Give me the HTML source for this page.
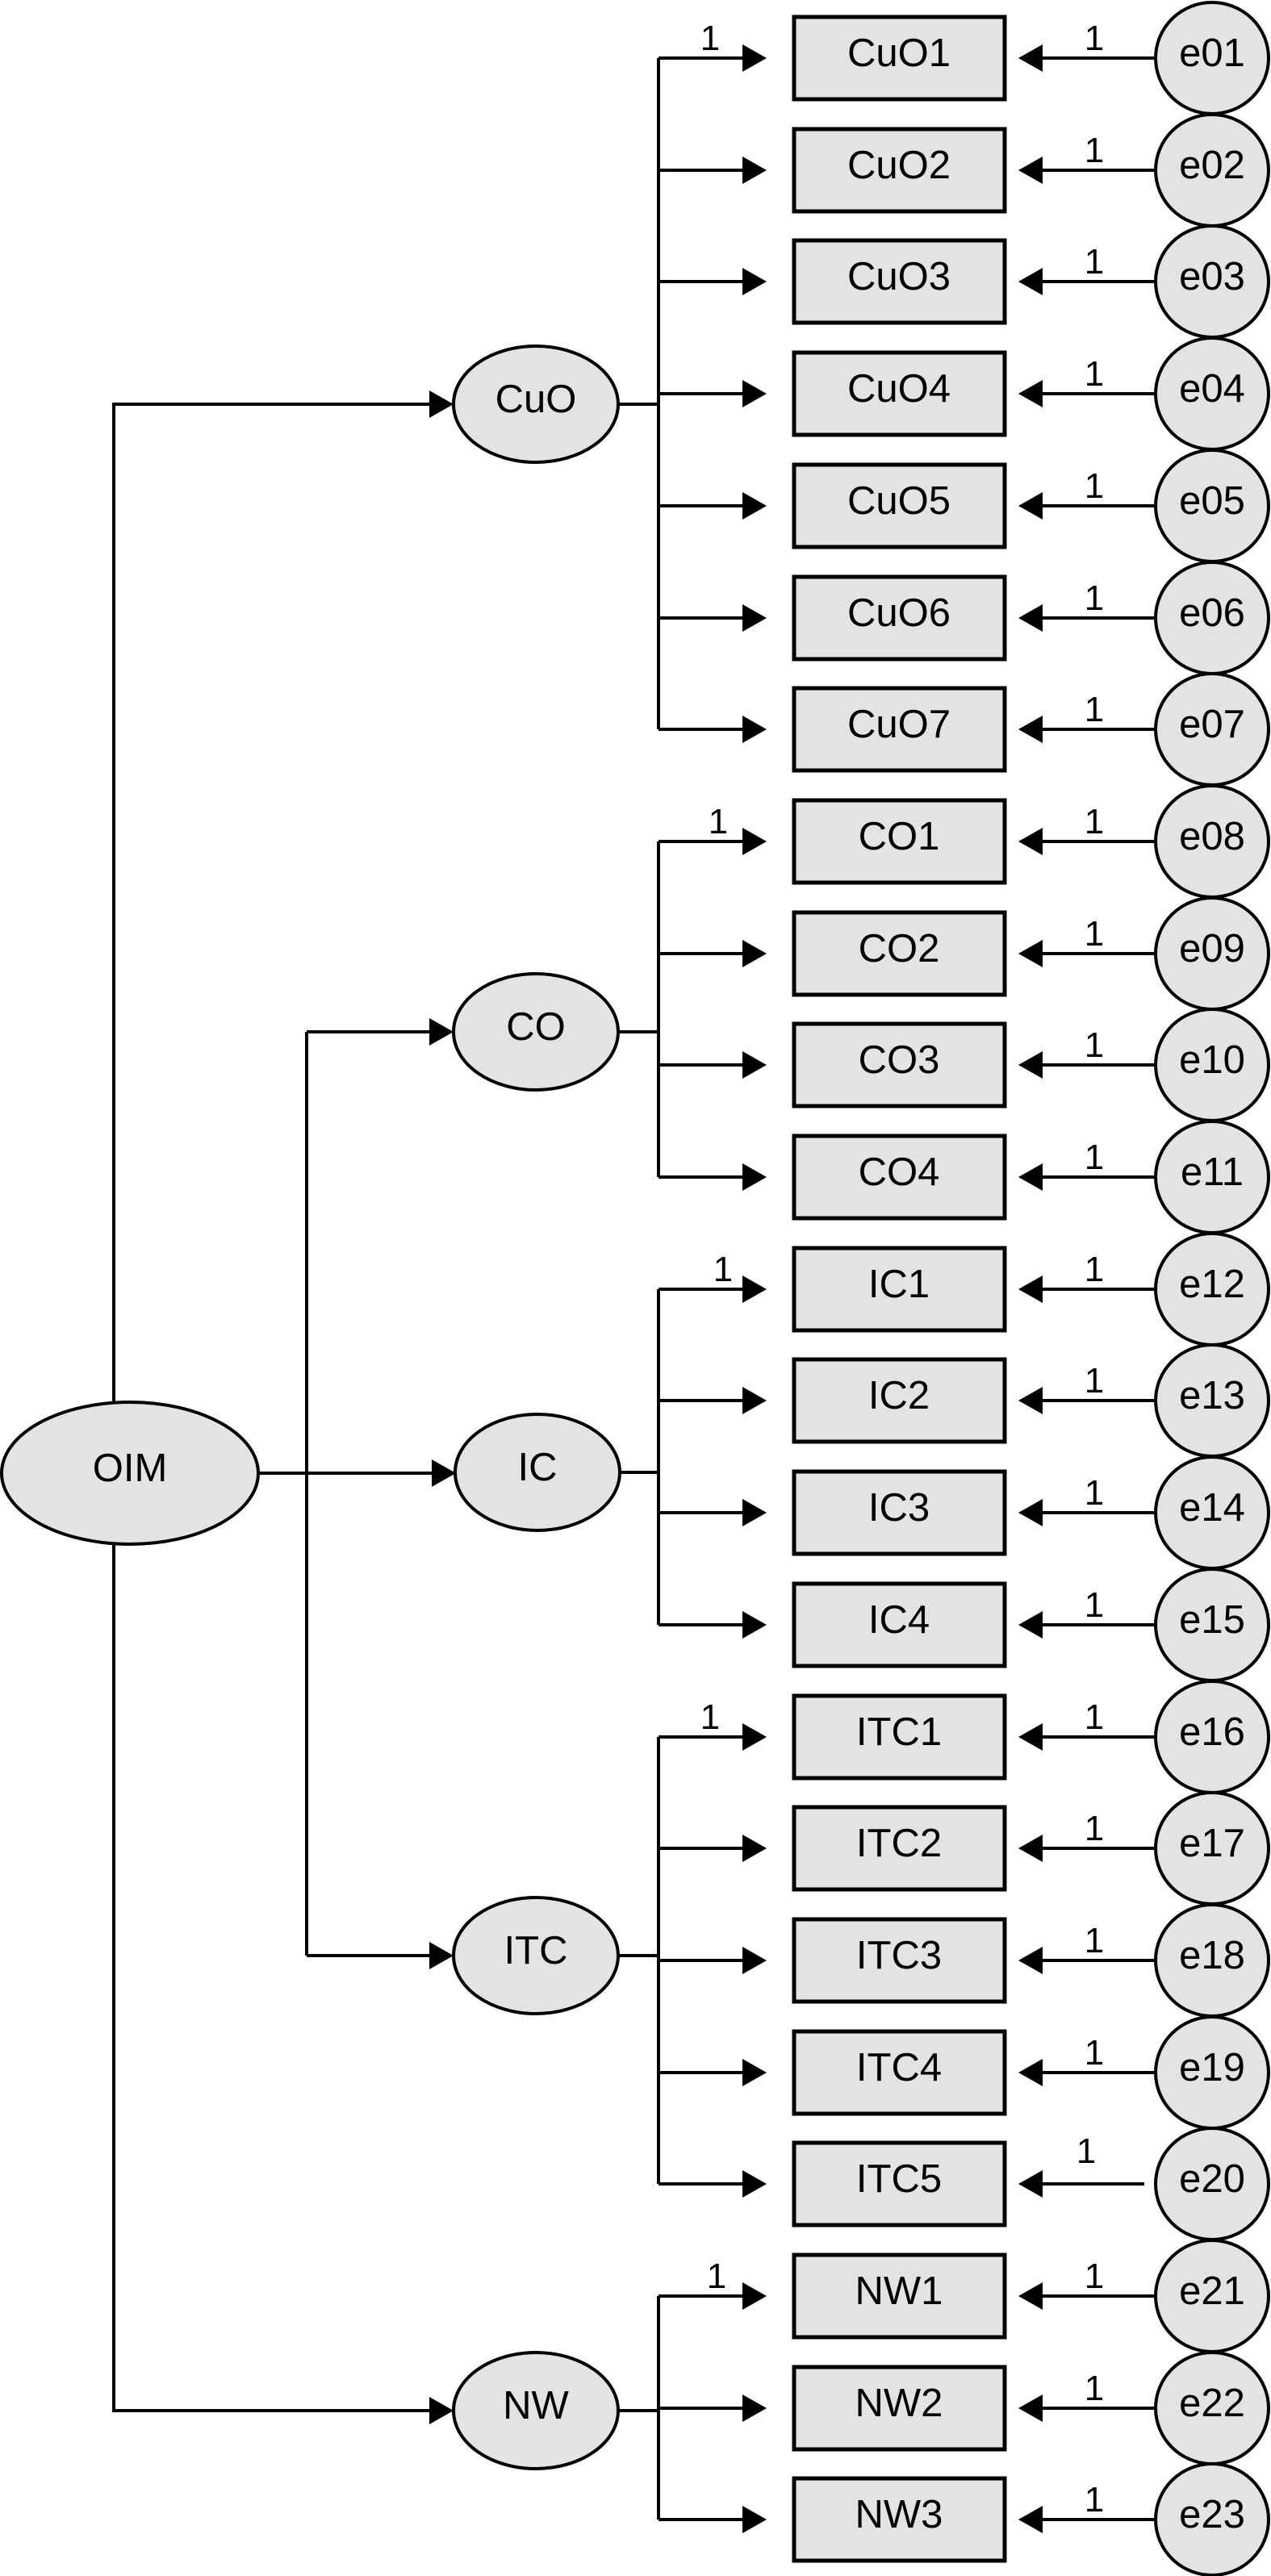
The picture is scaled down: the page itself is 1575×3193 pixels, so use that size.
<!DOCTYPE html>
<html><head><meta charset="utf-8"><style>html,body{margin:0;padding:0;background:#fff}svg{display:block}</style></head><body>
<svg width="1575" height="3193" viewBox="0 0 1575 3193" xmlns="http://www.w3.org/2000/svg" font-family="Liberation Sans, Arial, sans-serif">
<g stroke="#000" stroke-width="4" fill="none">
<path d="M141 1738V501H532M141 1914V2988H532M320 1826H535M380 1279V2424M380 1279H532M380 2424H532"/>
<path d="M766 501H816M816 72V904M766 1279H816M816 1043V1459M768 1825H816M816 1598V2014M766 2424H816M816 2153V2707M766 2988H816M816 2846V3123"/>
<path d="M816 72H922M816 211H922M816 349H922M816 488H922M816 627H922M816 766H922M816 904H922M816 1043H922M816 1182H922M816 1320H922M816 1459H922M816 1598H922M816 1736H922M816 1875H922M816 2014H922M816 2153H922M816 2291H922M816 2430H922M816 2569H922M816 2707H922M816 2846H922M816 2985H922M816 3123H922"/>
<path d="M1290 72H1430M1290 211H1430M1290 349H1430M1290 488H1430M1290 627H1430M1290 766H1430M1290 904H1430M1290 1043H1430M1290 1182H1430M1290 1320H1430M1290 1459H1430M1290 1598H1430M1290 1736H1430M1290 1875H1430M1290 2014H1430M1290 2153H1430M1290 2291H1430M1290 2430H1430M1290 2569H1430M1290 2707H1418M1290 2846H1430M1290 2985H1430M1290 3123H1430"/>
</g>
<defs>
<polygon id="ar" points="0,-17 30,0 0,17" fill="#000"/>
<polygon id="al" points="30,-17 0,0 30,17" fill="#000"/>
<rect id="bx" x="0" y="-51" width="261" height="102" fill="#e3e3e3" stroke="#000" stroke-width="5"/>
<ellipse id="ec" cx="0" cy="0" rx="70" ry="69" fill="#e3e3e3" stroke="#000" stroke-width="4"/>
<ellipse id="lt" cx="0" cy="0" rx="102" ry="72" fill="#e3e3e3" stroke="#000" stroke-width="4"/>
</defs>
<use href="#ar" x="532" y="501"/><use href="#ar" x="532" y="1279"/><use href="#ar" x="535" y="1826"/><use href="#ar" x="532" y="2424"/><use href="#ar" x="532" y="2988"/>
<g>
<use href="#ar" x="920" y="72"/><use href="#ar" x="920" y="211"/><use href="#ar" x="920" y="349"/><use href="#ar" x="920" y="488"/><use href="#ar" x="920" y="627"/><use href="#ar" x="920" y="766"/><use href="#ar" x="920" y="904"/><use href="#ar" x="920" y="1043"/><use href="#ar" x="920" y="1182"/><use href="#ar" x="920" y="1320"/><use href="#ar" x="920" y="1459"/><use href="#ar" x="920" y="1598"/><use href="#ar" x="920" y="1736"/><use href="#ar" x="920" y="1875"/><use href="#ar" x="920" y="2014"/><use href="#ar" x="920" y="2153"/><use href="#ar" x="920" y="2291"/><use href="#ar" x="920" y="2430"/><use href="#ar" x="920" y="2569"/><use href="#ar" x="920" y="2707"/><use href="#ar" x="920" y="2846"/><use href="#ar" x="920" y="2985"/><use href="#ar" x="920" y="3123"/>
<use href="#al" x="1262" y="72"/><use href="#al" x="1262" y="211"/><use href="#al" x="1262" y="349"/><use href="#al" x="1262" y="488"/><use href="#al" x="1262" y="627"/><use href="#al" x="1262" y="766"/><use href="#al" x="1262" y="904"/><use href="#al" x="1262" y="1043"/><use href="#al" x="1262" y="1182"/><use href="#al" x="1262" y="1320"/><use href="#al" x="1262" y="1459"/><use href="#al" x="1262" y="1598"/><use href="#al" x="1262" y="1736"/><use href="#al" x="1262" y="1875"/><use href="#al" x="1262" y="2014"/><use href="#al" x="1262" y="2153"/><use href="#al" x="1262" y="2291"/><use href="#al" x="1262" y="2430"/><use href="#al" x="1262" y="2569"/><use href="#al" x="1262" y="2707"/><use href="#al" x="1262" y="2846"/><use href="#al" x="1262" y="2985"/><use href="#al" x="1262" y="3123"/>
<use href="#bx" x="984" y="72"/><use href="#bx" x="984" y="211"/><use href="#bx" x="984" y="349"/><use href="#bx" x="984" y="488"/><use href="#bx" x="984" y="627"/><use href="#bx" x="984" y="766"/><use href="#bx" x="984" y="904"/><use href="#bx" x="984" y="1043"/><use href="#bx" x="984" y="1182"/><use href="#bx" x="984" y="1320"/><use href="#bx" x="984" y="1459"/><use href="#bx" x="984" y="1598"/><use href="#bx" x="984" y="1736"/><use href="#bx" x="984" y="1875"/><use href="#bx" x="984" y="2014"/><use href="#bx" x="984" y="2153"/><use href="#bx" x="984" y="2291"/><use href="#bx" x="984" y="2430"/><use href="#bx" x="984" y="2569"/><use href="#bx" x="984" y="2707"/><use href="#bx" x="984" y="2846"/><use href="#bx" x="984" y="2985"/><use href="#bx" x="984" y="3123"/>
<use href="#ec" x="1502" y="72"/><use href="#ec" x="1502" y="211"/><use href="#ec" x="1502" y="349"/><use href="#ec" x="1502" y="488"/><use href="#ec" x="1502" y="627"/><use href="#ec" x="1502" y="766"/><use href="#ec" x="1502" y="904"/><use href="#ec" x="1502" y="1043"/><use href="#ec" x="1502" y="1182"/><use href="#ec" x="1502" y="1320"/><use href="#ec" x="1502" y="1459"/><use href="#ec" x="1502" y="1598"/><use href="#ec" x="1502" y="1736"/><use href="#ec" x="1502" y="1875"/><use href="#ec" x="1502" y="2014"/><use href="#ec" x="1502" y="2153"/><use href="#ec" x="1502" y="2291"/><use href="#ec" x="1502" y="2430"/><use href="#ec" x="1502" y="2569"/><use href="#ec" x="1502" y="2707"/><use href="#ec" x="1502" y="2846"/><use href="#ec" x="1502" y="2985"/><use href="#ec" x="1502" y="3123"/>
</g>
<ellipse cx="161" cy="1826" rx="159" ry="88" fill="#e3e3e3" stroke="#000" stroke-width="4"/>
<use href="#lt" x="664" y="501"/><use href="#lt" x="664" y="1279"/><use href="#lt" x="666" y="1825"/><use href="#lt" x="664" y="2424"/><use href="#lt" x="664" y="2988"/>
<g font-size="49" text-anchor="middle" fill="#000" transform="translate(0,-7)">
<text x="161" y="1843">OIM</text>
<text x="664" y="518">CuO</text><text x="664" y="1296">CO</text><text x="666" y="1842">IC</text><text x="664" y="2441">ITC</text><text x="664" y="3005">NW</text>
<text x="1114" y="89">CuO1</text><text x="1114" y="228">CuO2</text><text x="1114" y="366">CuO3</text><text x="1114" y="505">CuO4</text><text x="1114" y="644">CuO5</text><text x="1114" y="783">CuO6</text><text x="1114" y="921">CuO7</text>
<text x="1114" y="1060">CO1</text><text x="1114" y="1199">CO2</text><text x="1114" y="1337">CO3</text><text x="1114" y="1476">CO4</text>
<text x="1114" y="1615">IC1</text><text x="1114" y="1753">IC2</text><text x="1114" y="1892">IC3</text><text x="1114" y="2031">IC4</text>
<text x="1114" y="2170">ITC1</text><text x="1114" y="2308">ITC2</text><text x="1114" y="2447">ITC3</text><text x="1114" y="2586">ITC4</text><text x="1114" y="2724">ITC5</text>
<text x="1114" y="2863">NW1</text><text x="1114" y="3002">NW2</text><text x="1114" y="3140">NW3</text>
<text x="1502" y="89">e01</text><text x="1502" y="228">e02</text><text x="1502" y="366">e03</text><text x="1502" y="505">e04</text><text x="1502" y="644">e05</text><text x="1502" y="783">e06</text><text x="1502" y="921">e07</text><text x="1502" y="1060">e08</text><text x="1502" y="1199">e09</text><text x="1502" y="1337">e10</text><text x="1502" y="1476">e11</text><text x="1502" y="1615">e12</text><text x="1502" y="1753">e13</text><text x="1502" y="1892">e14</text><text x="1502" y="2031">e15</text><text x="1502" y="2170">e16</text><text x="1502" y="2308">e17</text><text x="1502" y="2447">e18</text><text x="1502" y="2586">e19</text><text x="1502" y="2724">e20</text><text x="1502" y="2863">e21</text><text x="1502" y="3002">e22</text><text x="1502" y="3140">e23</text>
</g>
<g font-size="44" text-anchor="middle" fill="#000" transform="translate(0,4)">
<text x="880" y="58">1</text><text x="890" y="1029">1</text><text x="896" y="1584">1</text><text x="880" y="2139">1</text><text x="888" y="2832">1</text>
<text x="1356" y="58">1</text><text x="1356" y="197">1</text><text x="1356" y="335">1</text><text x="1356" y="474">1</text><text x="1356" y="613">1</text><text x="1356" y="752">1</text><text x="1356" y="890">1</text><text x="1356" y="1029">1</text><text x="1356" y="1168">1</text><text x="1356" y="1306">1</text><text x="1356" y="1445">1</text><text x="1356" y="1584">1</text><text x="1356" y="1722">1</text><text x="1356" y="1861">1</text><text x="1356" y="2000">1</text><text x="1356" y="2139">1</text><text x="1356" y="2277">1</text><text x="1356" y="2416">1</text><text x="1356" y="2555">1</text><text x="1346" y="2677">1</text><text x="1356" y="2832">1</text><text x="1356" y="2971">1</text><text x="1356" y="3109">1</text>
</g>
</svg>
</body></html>
